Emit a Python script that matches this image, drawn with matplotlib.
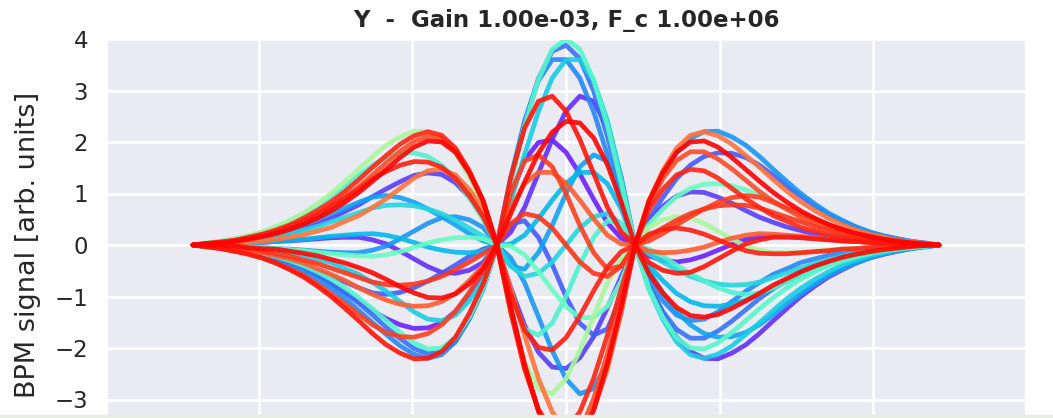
import numpy as np
import matplotlib.pyplot as plt
import seaborn as sns

# slice positions along the bunch (55 samples, same for every turn)
t = np.linspace(-1.215, 1.215, 55)

# rainbow colour value of each trace, in drawing order
color_vals = [0.04, 0.06, 0.08, 0.12, 0.15, 0.18, 0.20, 0.22, 0.26, 0.30, 0.32, 0.40,
              0.42, 0.45, 0.58, 0.85, 0.88, 0.90, 0.92, 0.93, 0.95, 0.96, 0.97, 0.99, 1.00]

# BPM signal per slice, one list per trace
signals = [
    [0, -0.03, -0.05, -0.09, -0.13, -0.19, -0.27, -0.36, -0.47, -0.59, -0.75, -0.91, -1.09, -1.28, -1.43, -1.55, -1.62, -1.61, -1.51, -1.29, -0.96, -0.55, 0, 0.95, 1.65, 1.99, 2.04,
     1.80,
     1.38, 0.89, 0.43, 0.13, 0, -0.21, -0.30, -0.33, -0.29, -0.21, -0.10, 0.01, 0.11, 0.16, 0.17, 0.17, 0.15, 0.13, 0.11, 0.08, 0.07, 0.05, 0.03, 0.03, 0.01, 0.01, 0],
    [0, 0.01, 0.01, 0.02, 0.04, 0.05, 0.07, 0.08, 0.10, 0.12, 0.14, 0.15, 0.15, 0.10, 0.02, -0.12, -0.27, -0.42, -0.53, -0.55, -0.49, -0.34, 0, 0.25, 0.73, 1.39, 2.05,
     2.60,
     2.89, 2.79, 2.27, 1.31, 0, -0.76, -1.33, -1.79, -2.07, -2.20, -2.21, -2.10, -1.94, -1.72, -1.47, -1.23, -1.00, -0.80, -0.62, -0.48, -0.35, -0.25, -0.18, -0.12, -0.07, -0.03, 0],
    [0, 0.01, 0.03, 0.06, 0.09, 0.13, 0.18, 0.24, 0.32, 0.41, 0.52, 0.65, 0.78, 0.94, 1.09, 1.23, 1.35, 1.40, 1.37, 1.21, 0.93, 0.56, 0, -0.83, -1.56, -2.08, -2.37,
     -2.40,
     -2.19, -1.78, -1.22, -0.61, 0, 0.46, 0.75, 0.95, 1.03, 1.02, 0.93, 0.81, 0.67, 0.54, 0.44, 0.35, 0.28, 0.21, 0.16, 0.12, 0.08, 0.07, 0.05, 0.02, 0.01, 0.01, 0],
    [0, -0.02, -0.05, -0.08, -0.11, -0.17, -0.23, -0.30, -0.39, -0.50, -0.61, -0.72, -0.83, -0.93, -0.96, -0.92, -0.83, -0.70, -0.55, -0.39, -0.22, -0.08, 0, 0.41, 0.47, 0.15, -0.38,
     -1.00,
     -1.52, -1.75, -1.63, -1.01, 0, 0.50, 0.92, 1.29, 1.55, 1.72, 1.79, 1.78, 1.70, 1.55, 1.35, 1.14, 0.95, 0.76, 0.59, 0.46, 0.35, 0.25, 0.17, 0.12, 0.07, 0.04, 0],
    [0, -0.02, -0.05, -0.08, -0.13, -0.19, -0.25, -0.34, -0.45, -0.58, -0.74, -0.93, -1.13, -1.36, -1.60, -1.82, -2.01, -2.11, -2.07, -1.86, -1.43, -0.86, 0, 1.25, 2.37, 3.23, 3.76,
     3.88,
     3.62, 2.99, 2.11, 1.07, 0, -0.78, -1.29, -1.64, -1.81, -1.81, -1.67, -1.48, -1.26, -1.04, -0.85, -0.69, -0.54, -0.42, -0.33, -0.24, -0.17, -0.13, -0.09, -0.06, -0.03, -0.02, 0],
    [0, -0.03, -0.06, -0.09, -0.15, -0.21, -0.29, -0.39, -0.52, -0.67, -0.84, -1.04, -1.27, -1.51, -1.74, -1.96, -2.12, -2.20, -2.13, -1.88, -1.44, -0.86, 0, 1.31, 2.41, 3.19, 3.60,
     3.60,
     3.24, 2.59, 1.75, 0.85, 0, -0.68, -1.08, -1.36, -1.47, -1.44, -1.30, -1.10, -0.90, -0.73, -0.57, -0.46, -0.34, -0.27, -0.20, -0.15, -0.11, -0.07, -0.05, -0.03, -0.02, -0.01, 0],
    [0, -0.01, -0.01, -0.02, -0.04, -0.05, -0.07, -0.08, -0.10, -0.12, -0.14, -0.15, -0.15, -0.10, -0.02, 0.12, 0.27, 0.42, 0.53, 0.55, 0.49, 0.34, 0, -0.25, -0.73, -1.39, -2.05,
     -2.60,
     -2.89, -2.79, -2.27, -1.31, 0, 0.76, 1.33, 1.79, 2.07, 2.20, 2.21, 2.10, 1.94, 1.72, 1.47, 1.23, 1.00, 0.80, 0.62, 0.48, 0.35, 0.25, 0.18, 0.12, 0.07, 0.03, 0],
    [0, 0.02, 0.05, 0.08, 0.11, 0.17, 0.23, 0.30, 0.39, 0.50, 0.61, 0.72, 0.83, 0.93, 0.96, 0.92, 0.83, 0.70, 0.55, 0.39, 0.22, 0.08, 0, -0.41, -0.47, -0.15, 0.38,
     1.00,
     1.52, 1.75, 1.63, 1.01, 0, -0.50, -0.92, -1.29, -1.55, -1.72, -1.79, -1.78, -1.70, -1.55, -1.35, -1.14, -0.95, -0.76, -0.59, -0.46, -0.35, -0.25, -0.17, -0.12, -0.07, -0.04, 0],
    [0, 0, 0.02, 0.03, 0.04, 0.05, 0.07, 0.09, 0.11, 0.14, 0.17, 0.19, 0.21, 0.22, 0.19, 0.13, 0.05, -0.04, -0.10, -0.14, -0.15, -0.12, 0, 0.02, 0.19, 0.51, 0.87,
     1.20,
     1.41, 1.41, 1.19, 0.70, 0, -0.40, -0.69, -0.94, -1.10, -1.18, -1.19, -1.15, -1.07, -0.96, -0.83, -0.69, -0.57, -0.46, -0.35, -0.27, -0.21, -0.15, -0.10, -0.07, -0.04, -0.02, 0],
    [0, -0.01, -0.02, -0.03, -0.05, -0.07, -0.11, -0.15, -0.20, -0.27, -0.34, -0.46, -0.57, -0.73, -0.90, -1.10, -1.30, -1.44, -1.47, -1.36, -1.08, -0.68, 0, 0.85, 1.75, 2.59, 3.24,
     3.60,
     3.60, 3.19, 2.41, 1.31, 0, -0.86, -1.44, -1.88, -2.13, -2.20, -2.12, -1.96, -1.74, -1.51, -1.27, -1.04, -0.84, -0.67, -0.52, -0.39, -0.29, -0.21, -0.15, -0.09, -0.06, -0.03, 0],
    [0, 0.02, 0.03, 0.06, 0.08, 0.12, 0.17, 0.22, 0.29, 0.36, 0.45, 0.54, 0.63, 0.72, 0.77, 0.78, 0.76, 0.70, 0.61, 0.48, 0.33, 0.17, 0, -0.41, -0.61, -0.55, -0.33,
     0,
     0.33, 0.55, 0.61, 0.41, 0, -0.17, -0.33, -0.48, -0.61, -0.70, -0.76, -0.78, -0.77, -0.72, -0.63, -0.54, -0.45, -0.36, -0.29, -0.22, -0.17, -0.12, -0.08, -0.06, -0.03, -0.02, 0],
    [0, 0.04, 0.07, 0.12, 0.17, 0.25, 0.35, 0.46, 0.59, 0.76, 0.95, 1.14, 1.35, 1.55, 1.70, 1.78, 1.79, 1.72, 1.55, 1.29, 0.92, 0.50, 0, -1.01, -1.63, -1.75, -1.52,
     -1.00,
     -0.38, 0.15, 0.47, 0.41, 0, -0.08, -0.22, -0.39, -0.55, -0.70, -0.83, -0.92, -0.96, -0.93, -0.83, -0.72, -0.61, -0.50, -0.39, -0.30, -0.23, -0.17, -0.11, -0.08, -0.05, -0.02, 0],
    [0, -0.02, -0.04, -0.07, -0.11, -0.16, -0.22, -0.30, -0.40, -0.52, -0.66, -0.83, -1.02, -1.24, -1.47, -1.70, -1.90, -2.02, -2.00, -1.80, -1.40, -0.85, 0, 1.20, 2.31, 3.21, 3.80,
     4.00,
     3.80, 3.21, 2.31, 1.20, 0, -0.85, -1.40, -1.80, -2.00, -2.02, -1.90, -1.70, -1.47, -1.24, -1.02, -0.83, -0.66, -0.52, -0.40, -0.30, -0.22, -0.16, -0.11, -0.07, -0.04, -0.02, 0],
    [0, 0, -0.02, -0.03, -0.04, -0.05, -0.07, -0.09, -0.11, -0.14, -0.17, -0.19, -0.21, -0.22, -0.19, -0.13, -0.05, 0.04, 0.10, 0.14, 0.15, 0.12, 0, -0.02, -0.19, -0.51, -0.87,
     -1.20,
     -1.41, -1.41, -1.19, -0.70, 0, 0.40, 0.69, 0.94, 1.10, 1.18, 1.19, 1.15, 1.07, 0.96, 0.83, 0.69, 0.57, 0.46, 0.35, 0.27, 0.21, 0.15, 0.10, 0.07, 0.04, 0.02, 0],
    [0, 0.03, 0.07, 0.12, 0.18, 0.25, 0.35, 0.48, 0.62, 0.80, 1.00, 1.23, 1.47, 1.72, 1.94, 2.10, 2.21, 2.20, 2.07, 1.79, 1.33, 0.76, 0, -1.31, -2.27, -2.79, -2.89,
     -2.60,
     -2.05, -1.39, -0.73, -0.25, 0, 0.34, 0.49, 0.55, 0.53, 0.42, 0.27, 0.12, -0.02, -0.10, -0.15, -0.15, -0.14, -0.12, -0.10, -0.08, -0.07, -0.05, -0.04, -0.02, -0.01, -0.01, 0],
    [0, 0.01, 0.02, 0.03, 0.05, 0.07, 0.11, 0.15, 0.20, 0.27, 0.34, 0.46, 0.57, 0.73, 0.90, 1.10, 1.30, 1.44, 1.47, 1.36, 1.08, 0.68, 0, -0.85, -1.75, -2.59, -3.24,
     -3.60,
     -3.60, -3.19, -2.41, -1.31, 0, 0.86, 1.44, 1.88, 2.13, 2.20, 2.12, 1.96, 1.74, 1.51, 1.27, 1.04, 0.84, 0.67, 0.52, 0.39, 0.29, 0.21, 0.15, 0.09, 0.06, 0.03, 0],
    [0, -0.02, -0.04, -0.07, -0.10, -0.15, -0.21, -0.27, -0.35, -0.46, -0.57, -0.69, -0.83, -0.96, -1.07, -1.15, -1.19, -1.18, -1.10, -0.94, -0.69, -0.40, 0, 0.70, 1.19, 1.41, 1.41,
     1.20,
     0.87, 0.51, 0.19, 0.02, 0, -0.12, -0.15, -0.14, -0.10, -0.04, 0.05, 0.13, 0.19, 0.22, 0.21, 0.19, 0.17, 0.14, 0.11, 0.09, 0.07, 0.05, 0.04, 0.03, 0.02, 0, 0],
    [0, 0.02, 0.05, 0.08, 0.13, 0.19, 0.25, 0.34, 0.45, 0.58, 0.74, 0.93, 1.13, 1.36, 1.60, 1.82, 2.01, 2.11, 2.07, 1.86, 1.43, 0.86, 0, -1.25, -2.37, -3.23, -3.76,
     -3.88,
     -3.62, -2.99, -2.11, -1.07, 0, 0.78, 1.29, 1.64, 1.81, 1.81, 1.67, 1.48, 1.26, 1.04, 0.85, 0.69, 0.54, 0.42, 0.33, 0.24, 0.17, 0.13, 0.09, 0.06, 0.03, 0.02, 0],
    [0, -0.04, -0.07, -0.12, -0.17, -0.25, -0.35, -0.46, -0.59, -0.76, -0.95, -1.14, -1.35, -1.55, -1.70, -1.78, -1.79, -1.72, -1.55, -1.29, -0.92, -0.50, 0, 1.01, 1.63, 1.75, 1.52,
     1.00,
     0.38, -0.15, -0.47, -0.41, 0, 0.08, 0.22, 0.39, 0.55, 0.70, 0.83, 0.92, 0.96, 0.93, 0.83, 0.72, 0.61, 0.50, 0.39, 0.30, 0.23, 0.17, 0.11, 0.08, 0.05, 0.02, 0],
    [0, -0.02, -0.03, -0.06, -0.08, -0.12, -0.17, -0.22, -0.29, -0.36, -0.45, -0.54, -0.63, -0.72, -0.77, -0.78, -0.76, -0.70, -0.61, -0.48, -0.33, -0.17, 0, 0.41, 0.61, 0.55, 0.33,
     0,
     -0.33, -0.55, -0.61, -0.41, 0, 0.17, 0.33, 0.48, 0.61, 0.70, 0.76, 0.78, 0.77, 0.72, 0.63, 0.54, 0.45, 0.36, 0.29, 0.22, 0.17, 0.12, 0.08, 0.06, 0.03, 0.02, 0],
    [0, 0.03, 0.06, 0.09, 0.15, 0.21, 0.29, 0.39, 0.52, 0.67, 0.84, 1.04, 1.27, 1.51, 1.74, 1.96, 2.12, 2.20, 2.13, 1.88, 1.44, 0.86, 0, -1.31, -2.41, -3.19, -3.60,
     -3.60,
     -3.24, -2.59, -1.75, -0.85, 0, 0.68, 1.08, 1.36, 1.47, 1.44, 1.30, 1.10, 0.90, 0.73, 0.57, 0.46, 0.34, 0.27, 0.20, 0.15, 0.11, 0.07, 0.05, 0.03, 0.02, 0.01, 0],
    [0, 0.03, 0.05, 0.09, 0.13, 0.19, 0.27, 0.36, 0.47, 0.59, 0.75, 0.91, 1.09, 1.28, 1.43, 1.55, 1.62, 1.61, 1.51, 1.29, 0.96, 0.55, 0, -0.95, -1.65, -1.99, -2.04,
     -1.80,
     -1.38, -0.89, -0.43, -0.13, 0, 0.21, 0.30, 0.33, 0.29, 0.21, 0.10, -0.01, -0.11, -0.16, -0.17, -0.17, -0.15, -0.13, -0.11, -0.08, -0.07, -0.05, -0.03, -0.03, -0.01, -0.01, 0],
    [0, -0.03, -0.07, -0.12, -0.18, -0.25, -0.35, -0.48, -0.62, -0.80, -1.00, -1.23, -1.47, -1.72, -1.94, -2.10, -2.21, -2.20, -2.07, -1.79, -1.33, -0.76, 0, 1.31, 2.27, 2.79, 2.89,
     2.60,
     2.05, 1.39, 0.73, 0.25, 0, -0.34, -0.49, -0.55, -0.53, -0.42, -0.27, -0.12, 0.02, 0.10, 0.15, 0.15, 0.14, 0.12, 0.10, 0.08, 0.07, 0.05, 0.04, 0.02, 0.01, 0.01, 0],
    [0, -0.01, -0.01, -0.02, -0.05, -0.07, -0.08, -0.12, -0.16, -0.21, -0.28, -0.35, -0.44, -0.54, -0.67, -0.81, -0.93, -1.02, -1.03, -0.95, -0.75, -0.46, 0, 0.61, 1.22, 1.78, 2.19,
     2.40,
     2.37, 2.08, 1.56, 0.83, 0, -0.56, -0.93, -1.21, -1.37, -1.40, -1.35, -1.23, -1.09, -0.94, -0.78, -0.65, -0.52, -0.41, -0.32, -0.24, -0.18, -0.13, -0.09, -0.06, -0.03, -0.01, 0],
    [0, 0.02, 0.04, 0.07, 0.11, 0.16, 0.22, 0.30, 0.40, 0.52, 0.66, 0.83, 1.02, 1.24, 1.47, 1.70, 1.90, 2.02, 2.00, 1.80, 1.40, 0.85, 0, -1.20, -2.31, -3.21, -3.80,
     -4.00,
     -3.80, -3.21, -2.31, -1.20, 0, 0.85, 1.40, 1.80, 2.00, 2.02, 1.90, 1.70, 1.47, 1.24, 1.02, 0.83, 0.66, 0.52, 0.40, 0.30, 0.22, 0.16, 0.11, 0.07, 0.04, 0.02, 0],
]

sns.set_style("darkgrid")
plt.rcParams["font.family"] = ["DejaVu Sans"]
text_col = "#262626"

fig = plt.figure(figsize=(10.53, 4.18), dpi=100)
# the axes runs past the bottom edge of the picture (x axis is cut off)
ax = fig.add_axes([107 / 1053, 1 - 451 / 418, 918 / 1053, 412 / 418])

cmap = plt.get_cmap("rainbow")
for v, y in zip(color_vals, signals):
    ax.plot(t, y, color=cmap(v), lw=3.4, alpha=0.9)

ax.set_xlim(-1.495, 1.495)
ax.set_ylim(-4, 4)
ax.set_xticks([-1, -0.5, 0, 0.5, 1])
ax.set_yticks([-3, -2, -1, 0, 1, 2, 3, 4])
ax.tick_params(axis="x", length=0, labelbottom=False)
ax.tick_params(axis="y", labelsize=16.5, length=0, pad=13.5, labelcolor=text_col)
ax.grid(color="white", lw=1.9)

ax.set_ylabel("BPM signal [arb. units]", fontsize=19.5, labelpad=10, color=text_col)
ax.set_title("Y  -  Gain 1.00e-03, F_c 1.00e+06", fontsize=16.5,
             fontweight="bold", pad=9, color=text_col)

# thin light strip at the very bottom of the screenshot
fig.add_artist(plt.Rectangle((0, 0), 1, 3 / 418, transform=fig.transFigure,
                             color="#e8ede4", zorder=10))

fig.savefig("out.png", dpi=100)
